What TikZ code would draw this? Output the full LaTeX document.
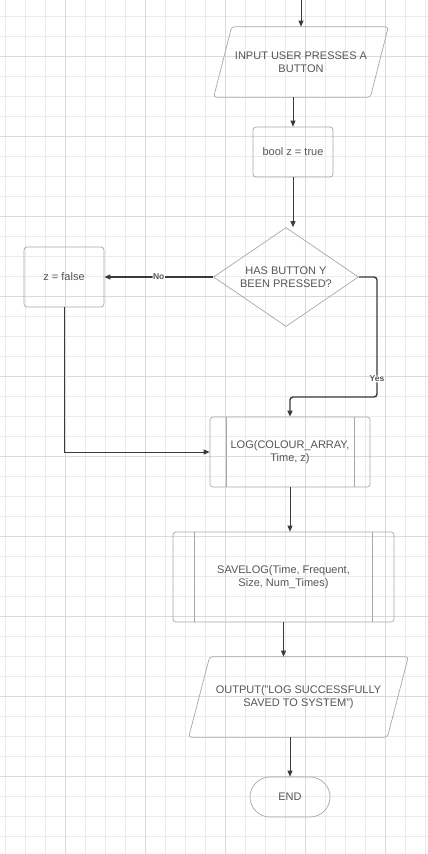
\documentclass[tikz,border=0pt]{standalone}
\usepackage{fontspec}
\setmainfont{Liberation Sans}
\usetikzlibrary{shapes.geometric,arrows.meta}
\definecolor{gridminor}{HTML}{EBEBEB}
\definecolor{gridmajor}{HTML}{DADADA}
\definecolor{boxline}{HTML}{A8A8A8}
\definecolor{boxtext}{HTML}{555555}
\definecolor{flowline}{HTML}{3A3A3A}
\begin{document}
\begin{tikzpicture}[x=1pt,y=-1pt]
      \tikzstyle{fcbox}=[draw=boxline,line width=0.7pt,text=boxtext,align=center,font=\fontsize{11}{13}\selectfont,inner sep=0pt]
      \tikzstyle{process}=[fcbox,rectangle,rounded corners=3pt]
      \tikzstyle{io}=[fcbox,rectangle,draw=none]
      \tikzstyle{ioline}=[draw=boxline,line width=0.7pt,rounded corners=3pt]
      \tikzstyle{decision}=[fcbox,diamond,shape aspect=1.46]
      \tikzstyle{terminal}=[fcbox,rectangle,rounded corners=20pt]
      \tikzstyle{flow}=[draw=flowline,line width=0.7pt,-{Triangle[length=6pt,width=5pt]}]
      \tikzstyle{branch}=[flow,line width=1.4pt,rounded corners=3pt]
      \tikzstyle{lbl}=[fill=white,text=boxtext,font=\fontsize{8.5}{10}\selectfont\bfseries,inner sep=0.5pt]
      \useasboundingbox (0,0) rectangle (428,854);
      \fill[white] (0,0) rectangle (428,854);
      \foreach \i in {0,...,21} \draw[gridminor,line width=0.6pt] (5+20*\i,0) -- (5+20*\i,854);
      \foreach \i in {0,...,41} \draw[gridminor,line width=0.6pt] (0,16.7+20*\i) -- (428,16.7+20*\i);
      \foreach \i in {0,...,4} \draw[gridmajor,line width=0.6pt] (65+80*\i,0) -- (65+80*\i,854);
      \foreach \i in {0,...,9} \draw[gridmajor,line width=0.6pt] (0,56.7+80*\i) -- (428,56.7+80*\i);
      \coordinate (top) at (301,0);
      \node[io,minimum width=174pt,minimum height=70pt] (in) at (301,62) {INPUT USER PRESSES A\\BUTTON};
      \node[process,minimum width=80pt,minimum height=50pt] (bool) at (293,152) {bool z = true};
      \node[decision,minimum width=145pt,minimum height=99pt] (dia) at (286,277) {HAS BUTTON Y\\BEEN PRESSED?};
      \node[process,minimum width=80pt,minimum height=60pt] (zf) at (64,277) {z = false};
      \node[process,minimum width=160pt,minimum height=70pt] (log) at (290,452) {LOG(COLOUR\_ARRAY,\\Time, z)};
      \node[process,minimum width=221pt,minimum height=90pt] (save) at (283.5,577) {SAVELOG(Time, Frequent,\\Size, Num\_Times)};
      \node[io,minimum width=219pt,minimum height=80pt] (out) at (298.5,697) {OUTPUT("LOG SUCCESSFULLY\\SAVED TO SYSTEM")};
      \node[terminal,minimum width=80pt,minimum height=40pt] (end) at (290,797) {END};
      \coordinate (yes) at (377,397);
      \path[ioline] ([xshift=18pt]in.north west) -- (in.north east) -- ([xshift=-18pt]in.south east) -- (in.south west) -- cycle;
      \path[ioline] ([xshift=21pt]out.north west) -- (out.north east) -- ([xshift=-21pt]out.south east) -- (out.south west) -- cycle;
      \draw[boxline,line width=0.7pt] ([xshift=17pt]log.north west) -- ([xshift=17pt]log.south west);
      \draw[boxline,line width=0.7pt] ([xshift=-16pt]log.north east) -- ([xshift=-16pt]log.south east);
      \draw[boxline,line width=0.7pt] ([xshift=22pt]save.north west) -- ([xshift=22pt]save.south west);
      \draw[boxline,line width=0.7pt] ([xshift=-22pt]save.north east) -- ([xshift=-22pt]save.south east);
      \path[flow] (top) -- (in.north);
      \path[flow] (in.south -| bool.north) -- (bool.north);
      \path[flow] (bool.south) -- (bool.south |- dia.north);
      \path[branch] (dia.west) -- node[lbl] {No} (zf.east);
      \path[flow] (zf.south) |- (log.west);
      \path[branch] (dia.east) -| node[lbl,pos=0.925] {Yes} (yes) -| (log.north);
      \path[flow] (log.south) -- (log.south |- save.north);
      \path[flow] (save.south) -- (save.south |- out.north);
      \path[flow] (end.north |- out.south) -- (end.north);
    \end{tikzpicture}
\end{document}
